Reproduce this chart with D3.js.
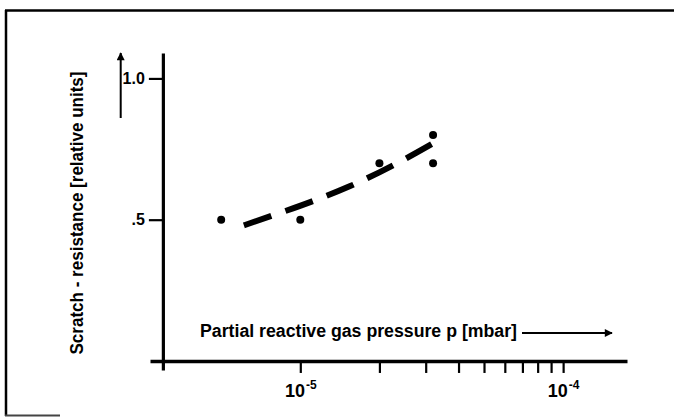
<!DOCTYPE html>
<meta charset="utf-8">
<style>
body { margin: 0; background: #fff; }
svg { display: block; font-family: "Liberation Sans", Arial, sans-serif; font-weight: bold; }
.axis path, .axis line { stroke: #000; fill: none; }
</style>
<body>
<script src="https://d3js.org/d3.v7.min.js"></script>
<script>

// measured points (partial pressure in mbar, scratch resistance in relative units)
var pressure = [5e-6, 1e-5, 2e-5, 3.2e-5, 3.2e-5];
var resistance = [0.5, 0.5, 0.7, 0.8, 0.7];

// dashed trend curve
var curvePressure = [6.1e-6, 7.9e-6, 1.11e-5, 1.54e-5, 2.28e-5, 3.39e-5];
var curveResistance = [0.48, 0.516, 0.565, 0.618, 0.695, 0.784];

var xTicks = [1e-5, 2e-5, 3e-5, 4e-5, 5e-5, 6e-5, 7e-5, 8e-5, 9e-5, 1e-4];
var xLabels = {"1e-5": "-5", "1e-4": "-4"};
var yTicks = [0.5, 1.0];
var yLabels = [".5", "1.0"];

var width = 674, height = 417;

var svg = d3.select("body").append("svg")
    .attr("width", width)
    .attr("height", height);

// scanned frame (top + left, bit of bottom)
svg.append("line").attr("x1", 5).attr("x2", 674).attr("y1", 10.5).attr("y2", 10.5)
    .attr("stroke", "#000").attr("stroke-width", 2.5);
svg.append("line").attr("x1", 6).attr("x2", 6).attr("y1", 10).attr("y2", 416)
    .attr("stroke", "#000").attr("stroke-width", 2.5);
svg.append("line").attr("x1", 5).attr("x2", 60).attr("y1", 415.5).attr("y2", 415.5)
    .attr("stroke", "#444").attr("stroke-width", 2);

var x = d3.scaleLog()
    .domain([2.68e-6, 1.75e-4])
    .range([150, 627]);

var y = d3.scaleLinear()
    .domain([-0.032, 1.09])
    .range([370, 53]);

// x axis
var xAxis = svg.append("g")
    .attr("class", "axis x")
    .attr("transform", "translate(0," + y(0) + ")")
    .call(d3.axisBottom(x).tickValues(xTicks).tickFormat("").tickSize(12).tickSizeOuter(0));
xAxis.select(".domain").attr("stroke-width", 3.5);
xAxis.selectAll(".tick line").attr("stroke-width", 2.2);

xAxis.selectAll(".tick")
    .filter(function(d) { return xLabels[d.toExponential()] !== undefined; })
    .each(function(d) {
      var t = d3.select(this).append("text")
          .attr("fill", "#000")
          .attr("y", 36)
          .attr("text-anchor", "middle")
          .style("font-size", "18px");
      t.append("tspan").text("10");
      t.append("tspan")
          .attr("dy", -8)
          .attr("dx", 1)
          .style("font-size", "12px")
          .text(xLabels[d.toExponential()]);
    });

// y axis
var yAxis = svg.append("g")
    .attr("class", "axis y")
    .attr("transform", "translate(" + x(3e-6) + ",0)")
    .call(d3.axisLeft(y).tickValues(yTicks).tickFormat(function(d, i) { return yLabels[i]; })
      .tickSize(14).tickSizeOuter(0).tickPadding(4));
yAxis.select(".domain").attr("stroke-width", 3.2);
yAxis.selectAll(".tick line").attr("stroke-width", 2.2);
yAxis.selectAll(".tick text")
    .attr("fill", "#000")
    .style("font-size", "16px");

// axis titles with arrows
svg.append("defs").append("marker")
    .attr("id", "arrow")
    .attr("viewBox", "0 0 10 10")
    .attr("refX", 9).attr("refY", 5)
    .attr("markerWidth", 5).attr("markerHeight", 4)
    .attr("orient", "auto")
  .append("path")
    .attr("d", "M0,0L10,5L0,10z")
    .attr("fill", "#000");

svg.append("text")
    .attr("x", 200)
    .attr("y", 337)
    .attr("textLength", 317)
    .attr("lengthAdjust", "spacingAndGlyphs")
    .style("font-size", "18px")
    .text("Partial reactive gas pressure p [mbar]");

svg.append("line")
    .attr("x1", 522).attr("x2", 612)
    .attr("y1", 333).attr("y2", 333)
    .attr("stroke", "#000").attr("stroke-width", 2)
    .attr("marker-end", "url(#arrow)");

svg.append("text")
    .attr("transform", "translate(83,213) rotate(-90)")
    .attr("text-anchor", "middle")
    .attr("textLength", 283)
    .attr("lengthAdjust", "spacingAndGlyphs")
    .style("font-size", "18px")
    .text("Scratch - resistance [relative units]");

svg.append("line")
    .attr("x1", 120.7).attr("x2", 120.7)
    .attr("y1", 118).attr("y2", 53)
    .attr("stroke", "#000").attr("stroke-width", 2)
    .attr("marker-end", "url(#arrow)");

// dashed curve
var curveData = curvePressure.map(function(p, i) { return {p: p, s: curveResistance[i]}; });
var line = d3.line()
    .x(function(d) { return x(d.p); })
    .y(function(d) { return y(d.s); })
    .curve(d3.curveMonotoneX);

svg.append("path")
    .datum(curveData)
    .attr("d", line)
    .attr("fill", "none")
    .attr("stroke", "#000")
    .attr("stroke-width", 6)
    .attr("stroke-dasharray", "29,15");

// dots
svg.selectAll(".dot")
    .data(pressure)
  .enter().append("circle")
    .attr("class", "dot")
    .attr("cx", function(d) { return x(d); })
    .attr("cy", function(d, i) { return y(resistance[i]); })
    .attr("r", 4)
    .attr("fill", "#000");

</script>
